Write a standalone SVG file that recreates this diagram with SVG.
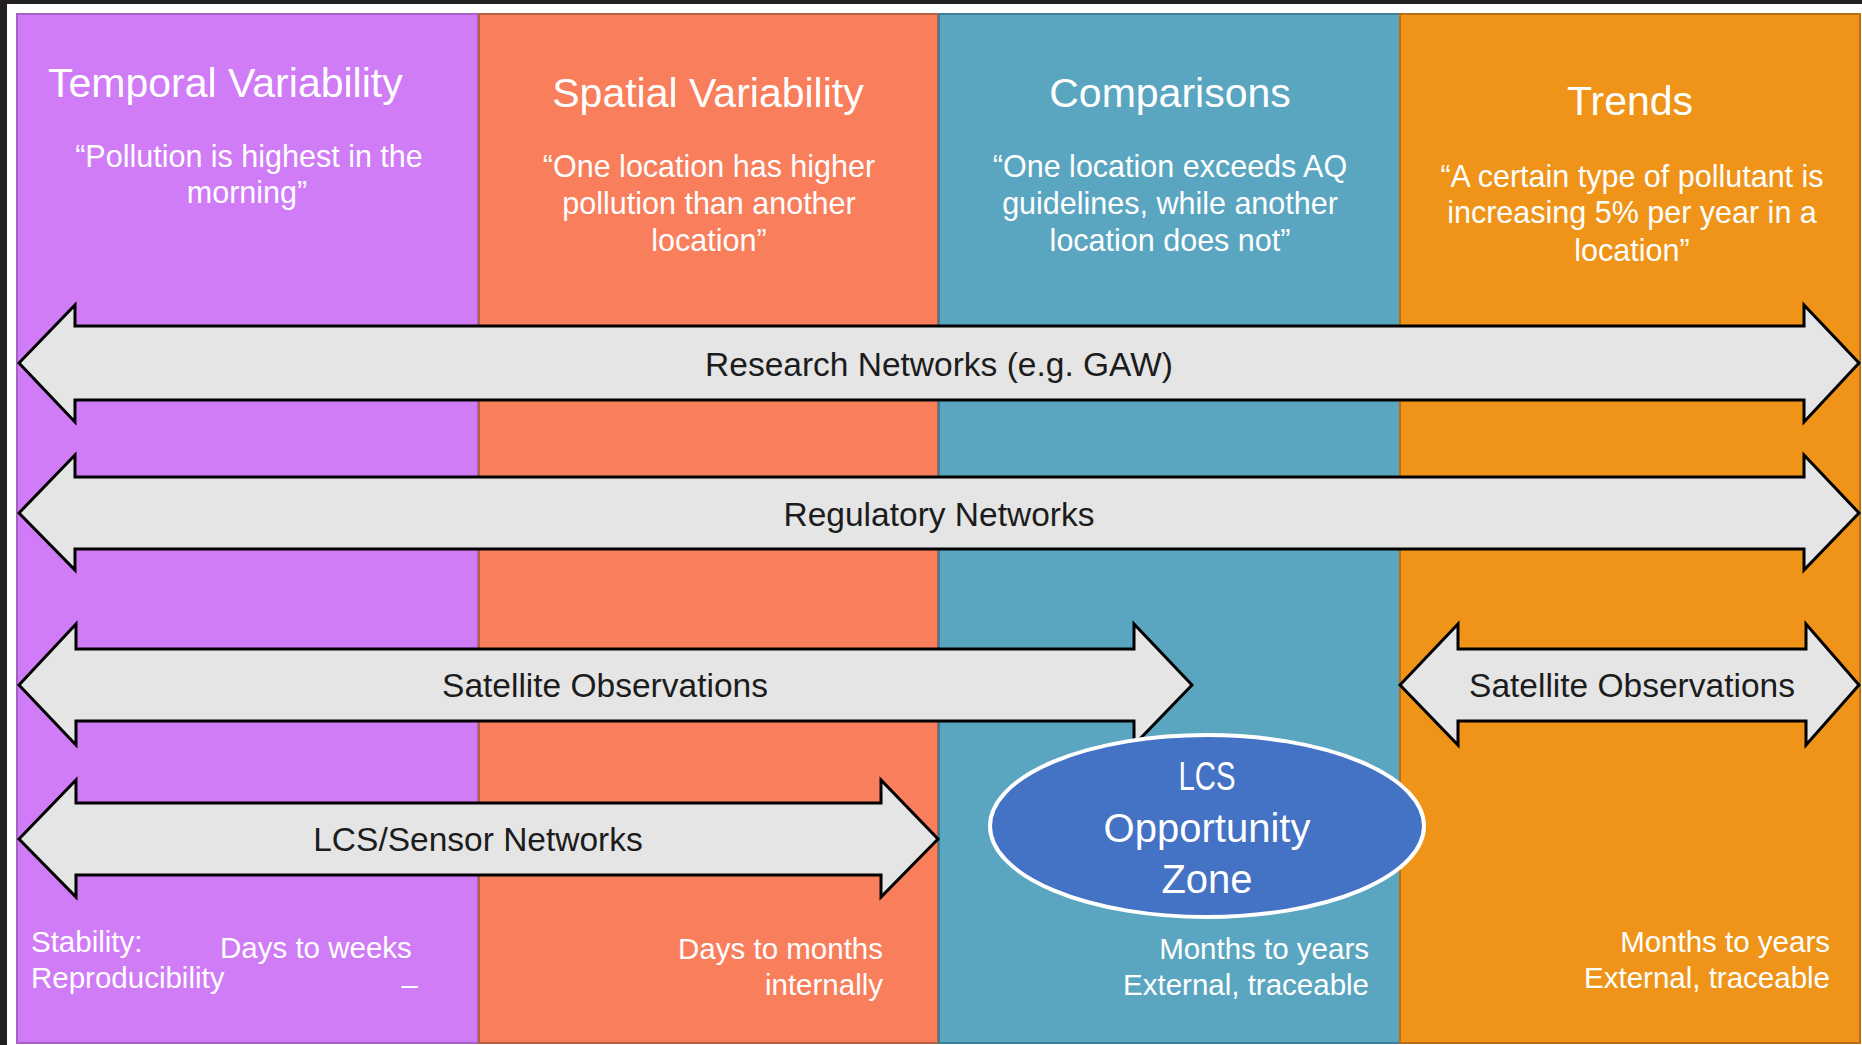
<svg xmlns="http://www.w3.org/2000/svg" width="1862" height="1045" viewBox="0 0 1862 1045">
  <style>
    .col { stroke-width: 2; }
    .title { font-family: "Liberation Sans", Arial, sans-serif; font-size: 41px; fill: #ffffff; }
    .quote { font-family: "Liberation Sans", Arial, sans-serif; font-size: 30.5px; fill: #ffffff; text-anchor: middle; }
    .foot { font-family: "Liberation Sans", Arial, sans-serif; font-size: 29.5px; fill: #ffffff; }
    .arrow { fill: #e5e5e5; stroke: #000000; stroke-width: 3; stroke-linejoin: miter; }
    .lbl { font-family: "Liberation Sans", Arial, sans-serif; font-size: 33.5px; fill: #1c1c1c; text-anchor: middle; }
    .zone { font-family: "Liberation Sans", Arial, sans-serif; font-size: 40px; fill: #ffffff; text-anchor: middle; }
  </style>
  <rect x="0" y="0" width="1862" height="1045" fill="#231f20"/>
  <rect x="7" y="4" width="1855" height="1041" fill="#ffffff"/>

  <g id="col-temporal">
    <rect class="col" x="17" y="14" width="461" height="1029" fill="#d07cf6" stroke="#a463c4"/>
    <text class="title" x="48" y="97">Temporal Variability</text>
    <text class="quote" x="249" y="167">“Pollution is highest in the</text>
    <text class="quote" x="247" y="203">morning”</text>
    <text class="foot" x="31" y="952">Stability:</text>
    <text class="foot" x="31" y="988">Reproducibility</text>
    <text class="foot" x="220" y="958">Days to weeks</text>
    <text class="foot" x="418" y="995" text-anchor="end">–</text>
  </g>

  <g id="col-spatial">
    <rect class="col" x="479" y="14" width="459" height="1029" fill="#f97e5c" stroke="#b65f42"/>
    <text class="title" x="708" y="107" text-anchor="middle">Spatial Variability</text>
    <text class="quote" x="709" y="177">“One location has higher</text>
    <text class="quote" x="709" y="214">pollution than another</text>
    <text class="quote" x="709" y="251">location”</text>
    <text class="foot" x="883" y="959" text-anchor="end">Days to months</text>
    <text class="foot" x="883" y="995" text-anchor="end">internally</text>
  </g>

  <g id="col-comparisons">
    <rect class="col" x="939" y="14" width="461" height="1029" fill="#5aa6c1" stroke="#3f7e97"/>
    <text class="title" x="1170" y="107" text-anchor="middle">Comparisons</text>
    <text class="quote" x="1170" y="177">“One location exceeds AQ</text>
    <text class="quote" x="1170" y="214">guidelines, while another</text>
    <text class="quote" x="1170" y="251">location does not”</text>
    <text class="foot" x="1369" y="959" text-anchor="end">Months to years</text>
    <text class="foot" x="1369" y="995" text-anchor="end">External, traceable</text>
  </g>

  <g id="col-trends">
    <rect class="col" x="1400" y="14" width="460" height="1029" fill="#ef9418" stroke="#b66f14"/>
    <text class="title" x="1630" y="115" text-anchor="middle">Trends</text>
    <text class="quote" x="1632" y="187">“A certain type of pollutant is</text>
    <text class="quote" x="1632" y="223">increasing 5% per year in a</text>
    <text class="quote" x="1632" y="261">location”</text>
    <text class="foot" x="1830" y="952" text-anchor="end">Months to years</text>
    <text class="foot" x="1830" y="988" text-anchor="end">External, traceable</text>
  </g>

  <g id="connectors">
    <g id="arrow-research">
      <path class="arrow" d="M19,363 L75,305 L75,326 L1804,326 L1804,305 L1859,363 L1804,422 L1804,400 L75,400 L75,422 Z"/>
      <text class="lbl" x="939" y="376">Research Networks (e.g. GAW)</text>
    </g>
    <g id="arrow-regulatory">
      <path class="arrow" d="M19,513 L75,455 L75,477 L1804,477 L1804,455 L1859,513 L1804,570 L1804,549 L75,549 L75,570 Z"/>
      <text class="lbl" x="939" y="526">Regulatory Networks</text>
    </g>
    <g id="arrow-satellite-left">
      <path class="arrow" d="M19,685 L76,624 L76,649 L1134,649 L1134,624 L1192,685 L1134,745 L1134,721 L76,721 L76,745 Z"/>
      <text class="lbl" x="605" y="697">Satellite Observations</text>
    </g>
    <g id="arrow-lcs">
      <path class="arrow" d="M19,839 L76,780 L76,803 L881,803 L881,780 L938,839 L881,897 L881,875 L76,875 L76,897 Z"/>
      <text class="lbl" x="478" y="851">LCS/Sensor Networks</text>
    </g>
    <g id="arrow-satellite-right">
      <path class="arrow" d="M1400,685 L1458,624 L1458,649 L1806,649 L1806,624 L1859,685 L1806,745 L1806,721 L1458,721 L1458,745 Z"/>
      <text class="lbl" x="1632" y="697">Satellite Observations</text>
    </g>
  </g>

  <g id="lcs-zone">
    <ellipse cx="1207" cy="826" rx="217" ry="91" fill="#4472c4" stroke="#ffffff" stroke-width="4"/>
    <text class="zone" x="1207" y="790" textLength="57" lengthAdjust="spacingAndGlyphs">LCS</text>
    <text class="zone" x="1207" y="842">Opportunity</text>
    <text class="zone" x="1207" y="893">Zone</text>
  </g>
</svg>
